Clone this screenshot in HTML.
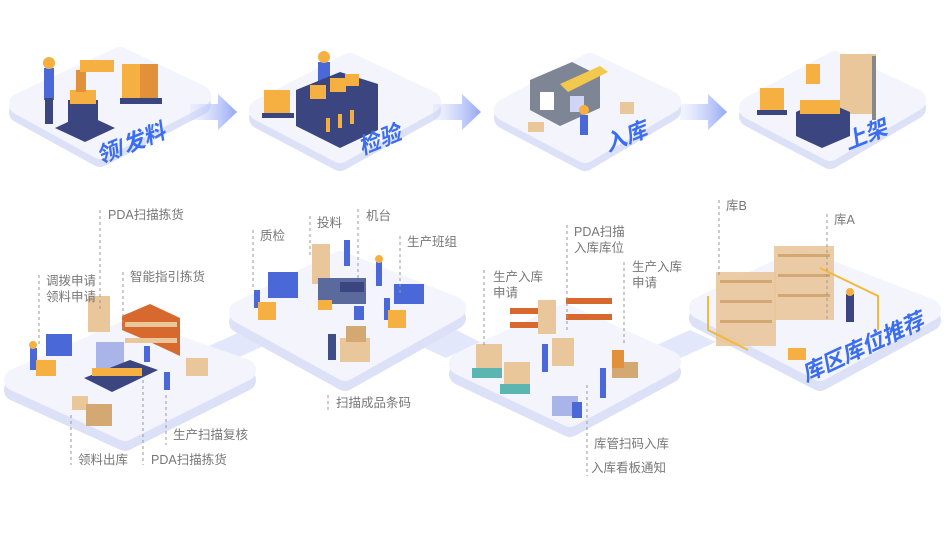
<!DOCTYPE html>
<html><head><meta charset="utf-8"><style>
html,body{margin:0;padding:0;background:#fff;}
svg{display:block;}
.lb{font-family:"Liberation Sans","Noto Sans CJK SC",sans-serif;font-size:12.5px;fill:#777;}
.tt{font-family:"Liberation Sans","Noto Sans CJK SC",sans-serif;font-size:22px;font-weight:bold;font-style:italic;fill:#3a6df0;}
.pl{fill:#f3f4fc;stroke:#f3f4fc;stroke-width:22;stroke-linejoin:round;}
.pd{fill:#dde1f8;stroke:#dde1f8;stroke-width:22;stroke-linejoin:round;}
.dl{stroke:#999;stroke-width:1;stroke-dasharray:3,3;}
.ob{fill:#f5b041;}.ob2{fill:#e0913a;}
.bl{fill:#4a68d8;}.nv{fill:#3b4680;}
.bx{fill:#e9c79b;}.bx2{fill:#d4a873;}
.sh{fill:#d8692e;}
</style></head><body>
<svg width="948" height="560" viewBox="0 0 948 560" xmlns="http://www.w3.org/2000/svg">
<defs>
<linearGradient id="ar" x1="0" x2="1"><stop offset="0" stop-color="#c9d3fb" stop-opacity="0.2"/><stop offset="1" stop-color="#93a7f5"/></linearGradient>
</defs>
<!-- top platforms -->
<g>
<polygon class="pd" points="20,112 120,66 200,104 100,156"/>
<polygon class="pl" points="20,104 120,58 200,96 100,148"/>
<polygon class="pd" points="260,118 350,72 430,110 340,160"/>
<polygon class="pl" points="260,110 350,64 430,102 340,152"/>
<polygon class="pd" points="505,118 590,72 670,110 585,160"/>
<polygon class="pl" points="505,110 590,64 670,102 585,152"/>
<polygon class="pd" points="750,116 835,70 915,108 830,158"/>
<polygon class="pl" points="750,108 835,62 915,100 830,150"/>
</g>
<!-- arrows -->
<polygon fill="url(#ar)" points="190,104 218,104 218,94 237,112 218,130 218,120 190,120"/>
<polygon fill="url(#ar)" points="433,104 462,104 462,94 481,112 462,130 462,120 433,120"/>
<polygon fill="url(#ar)" points="680,104 708,104 708,94 727,112 708,130 708,120 680,120"/>

<!-- top 1 content -->
<rect x="44" y="68" width="10" height="32" class="bl"/><rect x="45" y="98" width="8" height="26" class="nv"/><circle cx="49" cy="63" r="6" fill="#f5b041"/>
<polygon class="nv" points="55,128 85,114 115,128 85,142"/>
<rect x="68" y="100" width="30" height="26" class="nv"/>
<rect x="70" y="90" width="26" height="14" class="ob"/><rect x="76" y="70" width="10" height="22" class="ob2"/><rect x="80" y="60" width="34" height="12" class="ob"/>
<rect x="122" y="64" width="36" height="34" class="ob"/><rect x="140" y="64" width="18" height="34" class="ob2"/><rect x="120" y="98" width="42" height="6" class="nv"/>
<text class="tt" x="100" y="164" transform="rotate(-22 100 164)">领/发料</text>
<!-- top 2 -->
<rect x="264" y="90" width="26" height="24" class="ob"/><rect x="262" y="113" width="32" height="5" class="nv"/>
<rect x="318" y="62" width="12" height="22" class="bl"/><circle cx="324" cy="57" r="6" fill="#f5b041"/>
<polygon class="nv" points="296,90 340,72 378,84 378,130 340,148 296,126"/>
<rect x="310" y="85" width="16" height="14" class="ob"/><rect x="330" y="78" width="16" height="14" class="ob"/><rect x="345" y="74" width="14" height="12" class="ob"/>
<rect x="326" y="118" width="4" height="14" class="ob"/><rect x="338" y="114" width="4" height="14" class="ob"/><rect x="350" y="110" width="4" height="14" class="ob"/>
<text class="tt" x="362" y="155" transform="rotate(-22 362 155)">检验</text>
<!-- top 3 -->
<polygon fill="#7e8594" points="530,80 572,62 600,76 600,108 560,126 530,110"/>
<polygon fill="#f2c94c" points="560,84 600,66 608,72 568,92"/>
<rect x="540" y="92" width="14" height="18" fill="#fff"/><rect x="570" y="96" width="14" height="16" fill="#cfd6f5"/>
<rect x="620" y="102" width="14" height="12" class="bx"/><rect x="528" y="122" width="16" height="10" class="bx"/>
<rect x="580" y="115" width="8" height="20" class="bl"/><circle cx="584" cy="110" r="5" fill="#f5b041"/>
<text class="tt" x="608" y="152" transform="rotate(-22 608 152)">入库</text>
<!-- top 4 -->
<rect x="760" y="88" width="24" height="22" class="ob"/><rect x="757" y="110" width="30" height="5" class="nv"/>
<rect x="806" y="64" width="14" height="20" class="ob"/><rect x="840" y="54" width="36" height="60" class="bx"/><rect x="872" y="56" width="4" height="64" fill="#888"/>
<polygon class="nv" points="796,112 822,100 850,112 850,136 822,148 796,136"/>
<rect x="800" y="100" width="40" height="14" class="ob"/>
<text class="tt" x="848" y="150" transform="rotate(-22 848 150)">上架</text>

<!-- bottom platforms -->
<polygon fill="#e3e7fb" points="200,350 240,332 268,344 228,362"/>
<polygon fill="#e3e7fb" points="420,346 456,330 480,342 446,358"/>
<polygon fill="#e3e7fb" points="650,348 690,330 716,342 676,360"/>
<polygon class="pd" points="15,390 130,340 245,380 125,440"/>
<polygon class="pl" points="15,380 130,330 245,370 125,430"/>
<polygon class="pd" points="240,322 340,272 455,318 345,380"/>
<polygon class="pl" points="240,312 340,262 455,308 345,370"/>
<polygon class="pd" points="460,374 565,325 670,372 570,426"/>
<polygon class="pl" points="460,364 565,315 670,362 570,416"/>
<polygon class="pd" points="700,318 800,270 930,320 820,380"/>
<polygon class="pl" points="700,308 800,260 930,310 820,370"/>

<!-- bottom left content -->
<rect x="30" y="348" width="7" height="22" class="bl"/><circle cx="33" cy="345" r="4" fill="#f5b041"/>
<rect x="46" y="334" width="26" height="22" class="bl"/><rect x="36" y="360" width="20" height="16" class="ob"/>
<rect x="88" y="296" width="22" height="36" class="bx"/>
<rect x="96" y="342" width="28" height="36" fill="#a9b4e8"/>
<polygon class="nv" points="84,378 130,360 158,370 112,392"/>
<rect x="92" y="368" width="50" height="8" class="ob"/>
<polygon class="sh" points="122,316 150,304 180,318 180,356 150,342 122,330"/>
<rect x="125" y="322" width="52" height="5" class="bx"/><rect x="125" y="338" width="52" height="5" class="bx"/>
<rect x="144" y="346" width="6" height="16" class="bl"/>
<rect x="186" y="358" width="22" height="18" class="bx"/>
<rect x="164" y="372" width="6" height="18" class="bl"/>
<rect x="72" y="396" width="16" height="14" class="bx"/><rect x="86" y="404" width="26" height="22" class="bx2"/>
<!-- bottom middle -->
<rect x="254" y="290" width="6" height="18" class="bl"/><rect x="258" y="302" width="18" height="18" class="ob"/>
<rect x="268" y="272" width="30" height="26" class="bl"/>
<rect x="312" y="244" width="18" height="40" class="bx"/>
<rect x="344" y="240" width="6" height="26" class="bl"/>
<rect x="318" y="278" width="48" height="26" fill="#5a6a9c"/><rect x="340" y="282" width="24" height="10" class="nv"/>
<rect x="318" y="300" width="14" height="10" class="ob"/><rect x="354" y="306" width="10" height="14" class="bl"/>
<rect x="376" y="262" width="6" height="24" class="bl"/><circle cx="379" cy="259" r="4" fill="#f5b041"/>
<rect x="384" y="298" width="6" height="22" class="bl"/><rect x="394" y="284" width="30" height="20" class="bl"/><rect x="388" y="310" width="18" height="18" class="ob"/>
<rect x="328" y="334" width="8" height="26" fill="#3f4c85"/><rect x="340" y="338" width="30" height="24" class="bx"/><rect x="346" y="326" width="20" height="16" class="bx2"/>
<!-- bottom third -->
<rect x="476" y="344" width="26" height="28" class="bx"/><rect x="472" y="368" width="30" height="10" fill="#5bb5b0"/>
<rect x="504" y="362" width="26" height="26" class="bx"/><rect x="500" y="384" width="30" height="10" fill="#5bb5b0"/>
<rect x="510" y="308" width="40" height="6" class="sh"/><rect x="510" y="322" width="40" height="6" class="sh"/>
<rect x="538" y="300" width="18" height="34" class="bx"/>
<rect x="566" y="298" width="46" height="6" class="sh"/><rect x="566" y="314" width="46" height="6" class="sh"/>
<rect x="542" y="344" width="6" height="28" class="bl"/><rect x="552" y="338" width="22" height="28" class="bx"/>
<rect x="600" y="368" width="6" height="30" class="bl"/><rect x="612" y="362" width="26" height="16" class="bx2"/><rect x="612" y="350" width="12" height="18" class="ob2"/>
<rect x="552" y="396" width="26" height="20" fill="#a9b4e8"/><rect x="572" y="402" width="10" height="16" class="bl"/>
<!-- bottom right -->
<rect x="716" y="272" width="60" height="74" class="bx" opacity="0.9"/><rect x="774" y="246" width="60" height="74" class="bx" opacity="0.9"/>
<rect x="720" y="280" width="52" height="3" class="bx2"/><rect x="720" y="300" width="52" height="3" class="bx2"/><rect x="720" y="320" width="52" height="3" class="bx2"/>
<rect x="778" y="254" width="52" height="3" class="bx2"/><rect x="778" y="274" width="52" height="3" class="bx2"/><rect x="778" y="294" width="52" height="3" class="bx2"/>
<polyline points="708,296 708,330 748,350" fill="none" stroke="#f2b93b" stroke-width="2"/>
<polyline points="820,268 878,296 878,330" fill="none" stroke="#f2b93b" stroke-width="2"/>
<rect x="846" y="294" width="8" height="28" class="nv"/><circle cx="850" cy="292" r="4" fill="#f5b041"/>
<rect x="788" y="348" width="18" height="12" class="ob"/>
<text class="tt" x="806" y="382" transform="rotate(-25 806 382)">库区库位推荐</text>

<!-- dashed leader lines -->
<line class="dl" x1="100" y1="210" x2="100" y2="310"/>
<line class="dl" x1="39" y1="275" x2="39" y2="345"/>
<line class="dl" x1="123" y1="272" x2="123" y2="330"/>
<line class="dl" x1="71" y1="415" x2="71" y2="465"/>
<line class="dl" x1="143" y1="380" x2="143" y2="465"/>
<line class="dl" x1="166" y1="395" x2="166" y2="445"/>
<line class="dl" x1="253" y1="230" x2="253" y2="290"/>
<line class="dl" x1="310" y1="216" x2="310" y2="255"/>
<line class="dl" x1="358" y1="209" x2="358" y2="280"/>
<line class="dl" x1="400" y1="236" x2="400" y2="295"/>
<line class="dl" x1="328" y1="395" x2="328" y2="410"/>
<line class="dl" x1="484" y1="270" x2="484" y2="345"/>
<line class="dl" x1="567" y1="225" x2="567" y2="330"/>
<line class="dl" x1="624" y1="262" x2="624" y2="345"/>
<line class="dl" x1="587" y1="385" x2="587" y2="476"/>
<line class="dl" x1="719" y1="200" x2="719" y2="275"/>
<line class="dl" x1="827" y1="214" x2="827" y2="320"/>

<!-- labels -->
<text class="lb" x="108" y="219">PDA扫描拣货</text>
<text class="lb" x="46" y="285">调拨申请</text>
<text class="lb" x="46" y="301">领料申请</text>
<text class="lb" x="130" y="281">智能指引拣货</text>
<text class="lb" x="173" y="439">生产扫描复核</text>
<text class="lb" x="78" y="464">领料出库</text>
<text class="lb" x="151" y="464">PDA扫描拣货</text>
<text class="lb" x="260" y="240">质检</text>
<text class="lb" x="317" y="227">投料</text>
<text class="lb" x="366" y="220">机台</text>
<text class="lb" x="407" y="246">生产班组</text>
<text class="lb" x="336" y="407">扫描成品条码</text>
<text class="lb" x="493" y="281">生产入库</text>
<text class="lb" x="493" y="297">申请</text>
<text class="lb" x="574" y="236">PDA扫描</text>
<text class="lb" x="574" y="252">入库库位</text>
<text class="lb" x="632" y="271">生产入库</text>
<text class="lb" x="632" y="287">申请</text>
<text class="lb" x="594" y="448">库管扫码入库</text>
<text class="lb" x="591" y="472">入库看板通知</text>
<text class="lb" x="726" y="210">库B</text>
<text class="lb" x="834" y="224">库A</text>
</svg>
</body></html>
